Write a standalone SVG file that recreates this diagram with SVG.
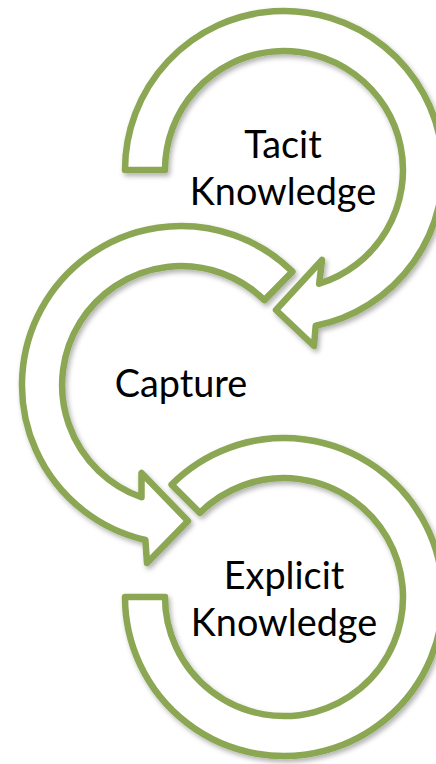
<svg xmlns="http://www.w3.org/2000/svg" width="436" height="764" viewBox="0 0 436 764">
  <defs>
    <filter id="sh" x="-20%" y="-20%" width="140%" height="140%">
      <feDropShadow dx="2" dy="3" stdDeviation="2.5" flood-color="#000" flood-opacity="0.3"/>
    </filter>
    <style>
      .arrow { fill: #ffffff; stroke: #8BA753; stroke-width: 6.5; stroke-linejoin: round; filter: url(#sh); }
      .lbl { font-family: Lato, "Open Sans", "Liberation Sans", sans-serif; font-size: 37.8px; fill: #000; text-anchor: middle; }
    </style>
  </defs>
  <rect width="436" height="764" fill="#ffffff"/>
  <g id="explicit">
    <path class="arrow" d="M125,597 A159,159 0 1 0 171.6,484.6 L199.9,512.9 A119,119 0 1 1 165,597 Z"/>
    <text class="lbl" x="284" y="589">Explicit</text>
    <text class="lbl" x="284" y="636">Knowledge</text>
  </g>
  <g id="capture">
    <path class="arrow" d="M292.4,271.6 A159,159 0 1 0 145.4,540 L147,563 L188,521 L141.5,473 L141.5,497.3 A119,119 0 1 1 264.4,300.1 Z"/>
    <text class="lbl" x="181" y="397">Capture</text>
  </g>
  <g id="tacit">
    <path class="arrow" d="M125,170 A159,159 0 1 1 315.7,325.8 L314,346 L276,310 L322,260 L319.2,283.7 A119,119 0 1 0 165,170 Z"/>
    <text class="lbl" x="283" y="158">Tacit</text>
    <text class="lbl" x="283" y="205">Knowledge</text>
  </g>
</svg>
